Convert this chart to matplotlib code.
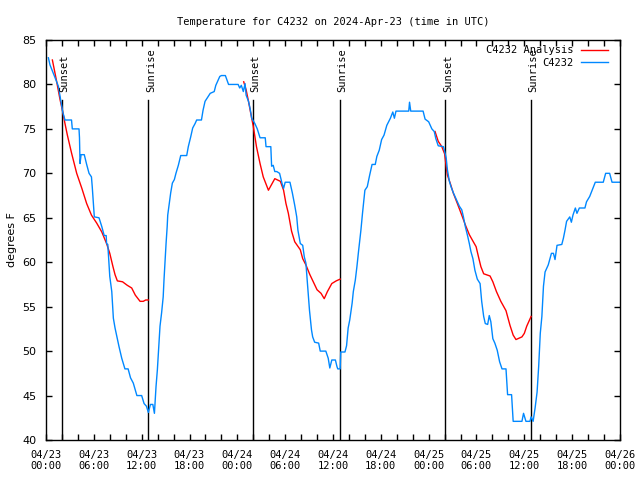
import matplotlib
matplotlib.use("Agg")
import matplotlib.pyplot as plt
import numpy as np

# hours since 2024-04-23 00:00 UTC
obs_hours = [0.3, 0.5, 0.9, 1.25, 1.55, 1.84, 2.1, 2.38, 3.2, 3.3, 4.14, 4.2, 4.27, 4.4, 4.8,
             5.1, 5.4, 5.7, 5.8, 6.06, 6.65, 7.0, 7.3, 7.55, 7.6, 7.75, 8.0, 8.25, 8.45, 8.66,
             9.16, 9.5, 9.9, 10.3, 10.6, 10.95, 11.4, 12.0, 12.3, 12.6, 12.84, 13.1, 13.4,
             13.5, 13.6, 13.8, 13.97, 14.1, 14.3, 14.5, 14.7, 14.8, 14.93, 15.06, 15.2,
             15.27, 15.43, 15.64, 15.85, 16.1, 16.3, 16.6, 16.9, 17.65, 17.85, 18.15, 18.4,
             18.7, 18.9, 19.5, 19.7, 19.95, 20.6, 21.1, 21.3, 21.8, 22.0, 22.5, 22.9, 23.7,
             24.1, 24.3, 24.5, 24.75, 24.97, 25.1, 25.4, 25.6, 25.8, 26.2, 26.5, 26.85,
             27.5, 27.6, 28.2, 28.3, 28.5, 28.7, 28.95, 29.3, 29.6, 29.8, 30.0, 30.6, 30.9,
             31.2, 31.45, 31.6, 31.9, 32.2, 32.4, 32.6, 32.8, 33.05, 33.3, 33.45, 33.7,
             34.2, 34.4, 35.1, 35.4, 35.6, 35.85, 36.3, 36.5, 36.6, 36.9, 36.97, 37.5,
             37.7, 37.9, 38.1, 38.4, 38.55, 38.8, 39.0, 39.2, 39.5, 39.7, 40.0, 40.3, 40.6,
             40.9, 41.3, 41.5, 41.8, 42.1, 42.4, 42.75, 43.2, 43.5, 43.7, 43.9, 45.5, 45.6,
             45.75, 47.3, 47.55, 48.0, 48.4, 48.7, 48.9, 49.2, 49.85, 50.0, 50.2, 50.35,
             50.6, 50.8, 51.1, 51.5, 51.85, 52.15, 52.36, 52.6, 52.9, 53.1, 53.3, 53.55,
             53.8, 54.1, 54.45, 54.65, 54.9, 55.1, 55.4, 55.6, 55.8, 56.05, 56.3, 56.6,
             56.9, 57.2, 57.7, 57.9, 58.4, 58.6, 59.7, 59.9, 60.2, 60.7, 60.85, 61.1, 61.35,
             61.6, 61.8, 62.0, 62.2, 62.4, 62.6, 63.0, 63.4, 63.65, 63.85, 64.1, 64.7, 64.9,
             65.1, 65.3, 65.7, 65.9, 66.1, 66.4, 66.6, 66.9, 67.6, 67.8, 68.2, 68.5, 68.9,
             69.9, 70.2, 70.7, 71.0, 72.0]
obs_temp = [83.0, 82.2, 81.3, 80.5, 79.8, 78.3, 76.9, 76.0, 76.0, 75.0, 75.0, 74.0, 71.1, 72.1, 72.1,
            71.0, 70.0, 69.6, 68.5, 65.1, 65.0, 64.0, 63.0, 63.0, 62.1, 62.0, 58.4, 56.7, 53.7, 52.6,
            50.5, 49.2, 48.0, 48.0, 47.0, 46.4, 45.0, 45.0, 44.1, 43.8, 43.1, 44.0, 44.0,
            43.5, 43.0, 46.0, 47.9, 49.8, 52.8, 54.3, 56.1, 58.0, 60.1, 62.1, 64.0,
            65.3, 66.4, 67.8, 68.9, 69.3, 70.0, 70.9, 72.0, 72.0, 73.0, 74.1, 75.1,
            75.6, 76.0, 76.0, 77.1, 78.1, 79.0, 79.2, 79.9, 80.9, 81.0, 81.0, 80.0, 80.0,
            80.0, 79.6, 79.9, 79.2, 80.1, 78.8, 78.1, 77.3, 76.2, 75.6, 75.0, 74.0,
            74.0, 73.0, 73.0, 70.8, 70.9, 70.2, 70.2, 70.0, 68.9, 68.3, 69.0, 69.0, 67.8,
            66.4, 65.1, 63.6, 62.1, 61.9, 60.6, 59.9, 57.6, 54.6, 52.4, 51.6, 51.0,
            50.9, 50.0, 50.0, 49.2, 48.1, 49.0, 49.0, 48.25, 48.0, 48.0, 49.9, 49.9,
            50.6, 52.6, 53.5, 55.4, 56.7, 58.0, 59.5, 61.2, 63.6, 65.5, 68.1, 68.5, 69.8,
            71.0, 71.0, 71.9, 72.6, 73.8, 74.3, 75.4, 76.2, 76.9, 76.2, 77.0, 77.0, 78.0,
            77.0, 77.0, 76.1, 75.8, 75.0, 74.7, 73.9, 73.1, 73.0, 72.5, 71.7, 70.4,
            69.1, 68.5, 67.8, 67.0, 66.3, 65.9, 65.1, 64.0, 62.9, 62.1, 61.2, 60.4,
            59.1, 58.1, 57.6, 55.6, 53.9, 53.1, 53.0, 54.0, 53.3, 51.4, 50.9, 50.1,
            48.8, 48.0, 48.0, 45.1, 45.1, 42.1, 42.1, 43.0, 42.1, 42.1, 42.6, 42.1, 43.6,
            45.4, 48.3, 52.0, 53.9, 57.3, 58.9, 59.7, 61.0, 61.0, 60.3, 61.9, 62.0, 62.7,
            63.6, 64.6, 65.1, 64.5, 65.3, 66.1, 65.5, 66.1, 66.1, 66.8, 67.4, 68.1, 69.0,
            69.0, 70.0, 70.0, 69.0, 69.0]

# analysis runs (three nights), NaN separates them
ana_hours = [0.8, 1.3, 1.76, 2.1, 2.38, 2.68, 3.2, 3.85, 4.5, 5.1, 5.7, 6.36, 7.0, 7.6, 8.0,
             8.4, 8.66, 8.95, 9.6, 10.2, 10.75, 11.2, 11.8, 12.2, 12.5, 12.84, np.nan,
             24.8, 25.1, 25.4, 25.8, 26.0, 26.4, 26.85, 27.25, 27.9, 28.7, 29.4, 29.8, 30.1,
             30.4, 30.8, 31.2, 31.9, 32.2, 32.6, 33.1, 34.0, 34.5, 34.9, 35.3, 35.85, 36.4,
             36.9, np.nan,
             48.8, 49.2, 49.65, 50.0, 50.2, 50.35, 50.7, 51.1, 51.6, 52.15, 52.6, 53.1, 53.6,
             53.95, 54.25, 54.55, 54.9, 55.7, 56.05, 56.5, 57.05, 57.7, 58.2, 58.6, 58.95,
             59.7, 60.0, 60.3, 60.85]
ana_temp = [82.75, 80.5, 78.3, 76.9, 75.6, 74.3, 72.3, 70.0, 68.3, 66.6, 65.3, 64.4, 63.4, 62.1, 61.0,
            59.5, 58.6, 57.9, 57.8, 57.4, 57.1, 56.3, 55.6, 55.6, 55.75, 55.75, np.nan,
            80.3, 79.4, 78.1, 76.2, 75.3, 73.0, 71.1, 69.6, 68.1, 69.4, 69.1, 68.1, 66.6,
            65.5, 63.5, 62.3, 61.4, 60.4, 59.7, 58.6, 56.9, 56.5, 55.9, 56.7, 57.6, 57.9,
            58.1, np.nan,
            74.7, 73.6, 73.0, 72.2, 70.75, 69.8, 68.9, 67.75, 66.6, 65.3, 64.2, 63.1, 62.3,
            61.75, 60.6, 59.5, 58.7, 58.45, 57.8, 56.7, 55.6, 54.55, 52.9, 51.8, 51.3,
            51.6, 52.0, 52.8, 53.9]

event_hours = [2.0, 12.85, 26.0, 36.9, 50.1, 60.85]
event_names = ["Sunset", "Sunrise", "Sunset", "Sunrise", "Sunset", "Sunrise"]

tick_hours = list(range(0, 73, 6))
tick_labels = ["04/23\n00:00", "04/23\n06:00", "04/23\n12:00", "04/23\n18:00",
               "04/24\n00:00", "04/24\n06:00", "04/24\n12:00", "04/24\n18:00",
               "04/25\n00:00", "04/25\n06:00", "04/25\n12:00", "04/25\n18:00",
               "04/26\n00:00"]

mono = "DejaVu Sans Mono"

fig = plt.figure(figsize=(6.4, 4.8), dpi=100)
ax = fig.add_axes([46 / 640, 40 / 480, 574 / 640, 400 / 480])

# sunrise / sunset markers
for h, name in zip(event_hours, event_names):
    ax.plot([h, h], [40, 78.3], color="black", lw=1.0)
    ax.text(h + 0.3, 79.1, name, rotation=90, ha="center", va="bottom",
            fontsize=7.5, family=mono)

ax.plot(ana_hours, ana_temp, color="#ff0000", lw=1.0, label="C4232 Analysis")
ax.plot(obs_hours, obs_temp, color="#0088ff", lw=1.0, label="C4232")

ax.set_xlim(0, 72)
ax.set_ylim(40, 85)
ax.set_xticks(tick_hours)
ax.set_xticklabels(tick_labels, family=mono, fontsize=7.5)
ax.set_xticks(np.arange(0, 73, 2), minor=True)
ax.set_yticks(np.arange(40, 86, 5))
ax.tick_params(axis="both", which="both", direction="in", top=True, right=True,
               length=4, width=1)
ax.tick_params(axis="x", which="major", pad=7)
ax.tick_params(axis="y", labelsize=8, pad=7)
for s in ax.spines.values():
    s.set_linewidth(1.0)

ax.set_ylabel("degrees F", fontsize=8, labelpad=4)
ax.set_title("Temperature for C4232 on 2024-Apr-23 (time in UTC)",
             family=mono, fontsize=7.5, pad=11)

ax.legend(loc="upper right", bbox_to_anchor=(0.995, 1.01), frameon=False,
          markerfirst=False, prop={"family": mono, "size": 7.5},
          handlelength=2.6, handletextpad=0.7, labelspacing=0.25)

fig.savefig("out.png", dpi=100)
